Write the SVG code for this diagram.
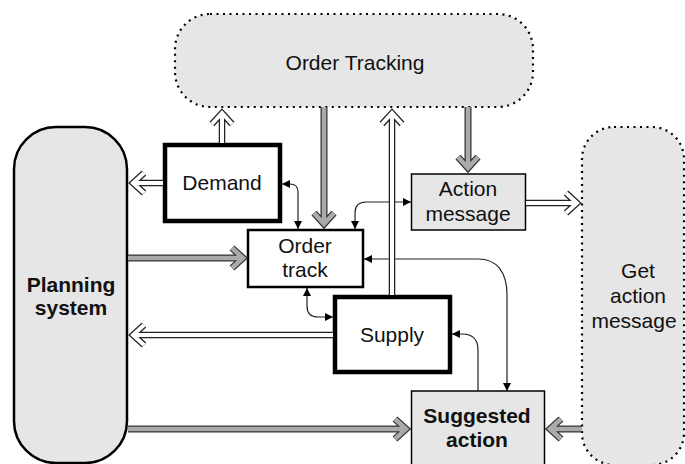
<svg xmlns="http://www.w3.org/2000/svg" width="685" height="464" viewBox="0 0 685 464">
  <defs>
    <style>
      .lbl { font-family: "Liberation Sans", Arial, sans-serif; font-size: 21px; fill: #111; text-anchor: middle; }
      .bold { font-weight: bold; }
      .dotted { fill: #e6e6e6; stroke: #000; stroke-width: 2.2; stroke-dasharray: 2 4.5; }
      .box { fill: #fff; stroke: #000; }
      .grey { fill: #e6e6e6; stroke: #000; }
      .thin { fill: none; stroke: #222; stroke-width: 1.2; }
      .hollow-o { fill: none; stroke: #222; stroke-width: 6.5; stroke-linejoin: miter; }
      .hollow-i { fill: none; stroke: #fff; stroke-width: 4; stroke-linejoin: miter; }
      .grey-o { fill: none; stroke: #333; stroke-width: 7; stroke-linejoin: miter; }
      .grey-i { fill: none; stroke: #aaa; stroke-width: 4.5; stroke-linejoin: miter; }
    </style>
    <marker id="tri" viewBox="0 0 10 10" refX="10" refY="5" markerWidth="8" markerHeight="9" markerUnits="userSpaceOnUse" orient="auto-start-reverse">
      <path d="M0,0 L10,5 L0,10 z" fill="#000"/>
    </marker>
    <!-- wide flow arrows: shaft plus chevron head -->
    <path id="a-demand-ot" d="M222 143 V113 M212 124 L222 113 L232 124"/>
    <path id="a-demand-ps" d="M163 183 H133 M144 173 L133 183 L144 193"/>
    <path id="a-ps-track" d="M128 258 H243 M232 248 L243 258 L232 268"/>
    <path id="a-ot-track" d="M324 107 V224 M314 213 L324 224 L334 213"/>
    <path id="a-ot-am" d="M468 107 V168 M458 157 L468 168 L478 157"/>
    <path id="a-supply-ot" d="M392 295 V113 M382 124 L392 113 L402 124"/>
    <path id="a-am-get" d="M526 203 H577 M566 193 L577 203 L566 213"/>
    <path id="a-supply-ps" d="M333 335 H133 M144 325 L133 335 L144 345"/>
    <path id="a-ps-sa" d="M128 429 H406 M395 419 L406 429 L395 439"/>
    <path id="a-get-sa" d="M582 429 H550 M561 419 L550 429 L561 439"/>
  </defs>

  <rect width="685" height="464" fill="#fff"/>

  <g id="order-tracking">
    <rect class="dotted" x="175" y="14" width="358" height="93" rx="35"/>
    <text class="lbl" x="355" y="70">Order Tracking</text>
  </g>

  <g id="planning-system">
    <rect class="grey" x="14" y="127" width="113" height="336" rx="42" stroke-width="2.5"/>
    <text class="lbl bold" x="71" y="292">Planning</text>
    <text class="lbl bold" x="71" y="315">system</text>
  </g>

  <g id="get-action-message">
    <rect class="dotted" x="582" y="127" width="102" height="338" rx="32"/>
    <text class="lbl" x="638" y="278">Get</text>
    <text class="lbl" x="638" y="303">action</text>
    <text class="lbl" x="634" y="328">message</text>
  </g>

  <g id="demand">
    <rect class="box" x="165" y="145" width="115" height="76" stroke-width="4.5"/>
    <text class="lbl" x="222" y="190">Demand</text>
  </g>

  <g id="order-track">
    <rect class="box" x="248" y="230" width="115" height="57" stroke-width="2.5"/>
    <text class="lbl" x="305" y="253">Order</text>
    <text class="lbl" x="305" y="277">track</text>
  </g>

  <g id="action-message">
    <rect class="grey" x="411.5" y="174" width="114" height="56" stroke-width="1.5"/>
    <text class="lbl" x="468" y="196">Action</text>
    <text class="lbl" x="468" y="221">message</text>
  </g>

  <g id="supply">
    <rect class="box" x="335" y="297" width="115" height="75" stroke-width="4.5"/>
    <text class="lbl" x="392" y="342">Supply</text>
  </g>

  <g id="suggested-action">
    <rect class="grey" x="411.5" y="391" width="133" height="80" stroke-width="1.5"/>
    <text class="lbl bold" x="477" y="423">Suggested</text>
    <text class="lbl bold" x="477" y="447">action</text>
  </g>

  <g id="connectors">
    <!-- thin control links -->
    <path class="thin" d="M282 184 H290 Q298 184 298 192 V229" marker-start="url(#tri)" marker-end="url(#tri)"/>
    <path class="thin" d="M355 229 V213 Q355 202 366 202 H411" marker-start="url(#tri)" marker-end="url(#tri)"/>
    <path class="thin" d="M307 288 V306 Q307 317 318 317 H333" marker-start="url(#tri)" marker-end="url(#tri)"/>
    <path class="thin" d="M364 259 H478 C497 259 507 272 507 295 V391" marker-start="url(#tri)" marker-end="url(#tri)"/>
    <path class="thin" d="M478 391 V350 Q478 334 462 334 H452" marker-end="url(#tri)"/>

    <!-- hollow flow arrows -->
    <use href="#a-demand-ot" class="hollow-o"/><use href="#a-demand-ot" class="hollow-i"/>
    <use href="#a-demand-ps" class="hollow-o"/><use href="#a-demand-ps" class="hollow-i"/>
    <use href="#a-supply-ot" class="hollow-o"/><use href="#a-supply-ot" class="hollow-i"/>
    <use href="#a-am-get" class="hollow-o"/><use href="#a-am-get" class="hollow-i"/>
    <use href="#a-supply-ps" class="hollow-o"/><use href="#a-supply-ps" class="hollow-i"/>

    <!-- grey flow arrows -->
    <use href="#a-ps-track" class="grey-o"/><use href="#a-ps-track" class="grey-i"/>
    <use href="#a-ot-track" class="grey-o"/><use href="#a-ot-track" class="grey-i"/>
    <use href="#a-ot-am" class="grey-o"/><use href="#a-ot-am" class="grey-i"/>
    <use href="#a-ps-sa" class="grey-o"/><use href="#a-ps-sa" class="grey-i"/>
    <use href="#a-get-sa" class="grey-o"/><use href="#a-get-sa" class="grey-i"/>
  </g>
</svg>
